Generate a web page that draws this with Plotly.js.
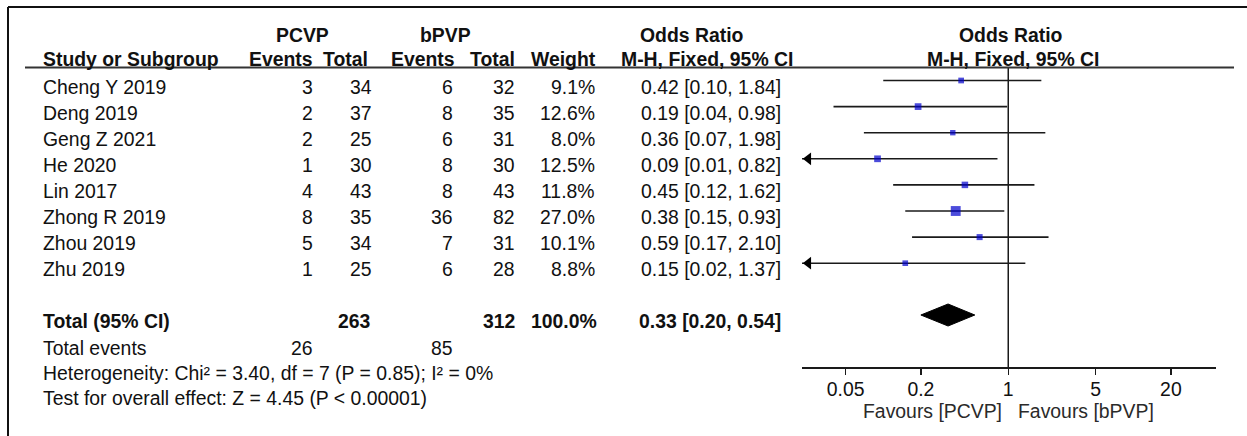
<!DOCTYPE html>
<html>
<head>
<meta charset="utf-8">
<script src="https://cdn.plot.ly/plotly-3.0.1.min.js"></script>
<style>html,body{margin:0;padding:0;background:#fff;}#chart{width:1247px;height:436px;}</style>
</head>
<body>
<div id="chart"></div>
<script>
// ---------- data ----------
const studies = ['Cheng Y 2019','Deng 2019','Geng Z 2021','He 2020','Lin 2017','Zhong R 2019','Zhou 2019','Zhu 2019'];
const pcvpEvents = [3, 2, 2, 1, 4, 8, 5, 1];
const pcvpTotal  = [34, 37, 25, 30, 43, 35, 34, 25];
const bpvpEvents = [6, 8, 6, 8, 8, 36, 7, 6];
const bpvpTotal  = [32, 35, 31, 30, 43, 82, 31, 28];
const weights    = [9.1, 12.6, 8.0, 12.5, 11.8, 27.0, 10.1, 8.8];
const oddsRatio  = [0.42, 0.19, 0.36, 0.09, 0.45, 0.38, 0.59, 0.15];
const ciLow      = [0.10, 0.04, 0.07, 0.01, 0.12, 0.15, 0.17, 0.02];
const ciHigh     = [1.84, 0.98, 1.98, 0.82, 1.62, 0.93, 2.10, 1.37];

const totalPcvp = 263, totalBpvp = 312, totalWeight = '100.0%';
const totalOR = 0.33, totalLow = 0.20, totalHigh = 0.54;
const totalEventsPcvp = 26, totalEventsBpvp = 85;
const heterogeneity = 'Heterogeneity: Chi² = 3.40, df = 7 (P = 0.85); I² = 0%';
const overallEffect = 'Test for overall effect: Z = 4.45 (P < 0.00001)';
const tickVals = [0.05, 0.2, 1, 5, 20];
const tickText = ['0.05', '0.2', '1', '5', '20'];
const favoursLeft = 'Favours [PCVP]', favoursRight = 'Favours [bPVP]';

// ---------- layout constants ----------
const W = 1247, H = 436;
const FONT = 'Liberation Sans, Arial, Helvetica, sans-serif';
const FS = 19.4;
const TXT = '#111';
const LINE = '#1a1a1a';
const logRange = [-1.65, 1.662];
const axisY = 367;
const rowY0 = 80.5, rowStep = 26.1, textOff = 6;
const totalY = 315;

const px = x => x / W;
const py = y => 1 - y / H;
const fmt2 = v => v.toFixed(2);

const annotations = [];
function txt(text, x, y, anchor, bold, color) {
  annotations.push({
    text: bold ? '<b>' + text + '</b>' : text,
    xref: 'paper', yref: 'paper', x: px(x), y: py(y),
    xanchor: anchor, yanchor: 'middle', showarrow: false,
    font: {family: FONT, size: FS, color: color || TXT}
  });
}

// headers
txt('PCVP', 302, 35, 'center', true);
txt('bPVP', 445, 35, 'center', true);
txt('Odds Ratio', 692, 35, 'center', true);
txt('Odds Ratio', 1011, 35, 'center', true);
txt('Study or Subgroup', 41, 59, 'left', true);
txt('Events', 315, 59, 'right', true);
txt('Total', 370, 59, 'right', true);
txt('Events', 457, 59, 'right', true);
txt('Total', 517, 59, 'right', true);
txt('Weight', 598, 59, 'right', true);
txt('M-H, Fixed, 95% CI', 707, 59, 'center', true);
txt('M-H, Fixed, 95% CI', 1013, 59, 'center', true);

// study rows
studies.forEach((s, i) => {
  const y = rowY0 + rowStep * i + textOff;
  txt(s, 41, y, 'left');
  txt(String(pcvpEvents[i]), 315, y, 'right');
  txt(String(pcvpTotal[i]), 374, y, 'right');
  txt(String(bpvpEvents[i]), 455, y, 'right');
  txt(String(bpvpTotal[i]), 517, y, 'right');
  txt(weights[i].toFixed(1) + '%', 597, y, 'right');
  txt(fmt2(oddsRatio[i]) + ' [' + fmt2(ciLow[i]) + ', ' + fmt2(ciHigh[i]) + ']', 783, y, 'right');
});

// totals
const tY = totalY + textOff;
txt('Total (95% CI)', 41, tY, 'left', true);
txt(String(totalPcvp), 373, tY, 'right', true);
txt(String(totalBpvp), 517, tY, 'right', true);
txt(totalWeight, 599, tY, 'right', true);
txt(fmt2(totalOR) + ' [' + fmt2(totalLow) + ', ' + fmt2(totalHigh) + ']', 783, tY, 'right', true);
txt('Total events', 41, 348, 'left');
txt(String(totalEventsPcvp), 315, 348, 'right');
txt(String(totalEventsBpvp), 455, 348, 'right');
txt(heterogeneity, 41, 373, 'left');
txt(overallEffect, 41, 398, 'left');
txt(favoursLeft, 1004, 411, 'right', false, '#2a2a2a');
txt(favoursRight, 1016, 411, 'left', false, '#2a2a2a');

// ---------- traces ----------
const xMin = Math.pow(10, logRange[0]);
const pxPerDecade = (1216 - 802) / (logRange[1] - logRange[0]);
const traces = [];

// line of no effect
traces.push({x: [1, 1], y: [68, axisY], mode: 'lines', line: {color: LINE, width: 1.5},
  hoverinfo: 'skip', showlegend: false, cliponaxis: false});

studies.forEach((s, i) => {
  const y = rowY0 + rowStep * i;
  const lo = Math.max(ciLow[i], xMin);
  traces.push({x: [lo, ciHigh[i]], y: [y, y], mode: 'lines', line: {color: LINE, width: 1.6},
    hoverinfo: 'skip', showlegend: false, cliponaxis: false});
  if (ciLow[i] < xMin) {
    // arrow head at the clipped end
    const shift = Math.pow(10, logRange[0] + 6.3 / pxPerDecade);
    traces.push({x: [shift], y: [y], mode: 'markers',
      marker: {symbol: 'triangle-left', size: 11, color: '#000'},
      hoverinfo: 'skip', showlegend: false, cliponaxis: false});
  }
});

// squares
traces.push({
  x: oddsRatio, y: studies.map((s, i) => rowY0 + rowStep * i),
  mode: 'markers',
  marker: {symbol: 'square', color: '#0000cc', size: weights.map(w => 1.9 * Math.sqrt(w)), line: {width: 0}},
  text: studies, hoverinfo: 'text+x', showlegend: false, cliponaxis: false
});

// diamond
traces.push({
  x: [totalLow, totalOR, totalHigh, totalOR, totalLow],
  y: [totalY, totalY - 11, totalY, totalY + 11, totalY],
  mode: 'lines', fill: 'toself', fillcolor: '#000', line: {color: '#000', width: 1},
  hoverinfo: 'skip', showlegend: false, cliponaxis: false
});

// ---------- shapes (frame and header rule) ----------
const shapes = [
  {type: 'line', xref: 'paper', yref: 'paper', x0: px(8), x1: 1, y0: py(7), y1: py(7), line: {color: '#111', width: 2}},
  {type: 'line', xref: 'paper', yref: 'paper', x0: px(8), x1: px(8), y0: py(7), y1: 0, line: {color: '#111', width: 2}},
  {type: 'line', xref: 'paper', yref: 'paper', x0: px(25), x1: px(1234), y0: py(67.5), y1: py(67.5), line: {color: '#333', width: 2}}
];

const axisCommon = {
  type: 'log', range: logRange, domain: [px(802), px(1216)],
  anchor: 'free', position: py(axisY),
  tickvals: tickVals, ticktext: tickText, tickwidth: 1.5, tickcolor: LINE,
  showgrid: false, zeroline: false, fixedrange: true
};

const layout = {
  width: W, height: H,
  margin: {l: 0, r: 0, t: 0, b: 0, pad: 0},
  paper_bgcolor: '#fff', plot_bgcolor: 'rgba(0,0,0,0)',
  showlegend: false,
  xaxis: Object.assign({}, axisCommon, {
    showline: true, linecolor: LINE, linewidth: 1.5,
    ticks: 'outside', ticklen: 6, showticklabels: true, ticklabelstandoff: -2,
    tickfont: {family: FONT, size: FS, color: TXT}
  }),
  xaxis3: Object.assign({}, axisCommon, {
    overlaying: 'x', showline: false, ticks: 'inside', ticklen: 7, showticklabels: false
  }),
  yaxis: {range: [H, 0], domain: [0, 1], visible: false, fixedrange: true, showgrid: false, zeroline: false},
  annotations: annotations,
  shapes: shapes
};

Plotly.newPlot('chart', traces, layout, {displayModeBar: false, staticPlot: true});
</script>
</body>
</html>
